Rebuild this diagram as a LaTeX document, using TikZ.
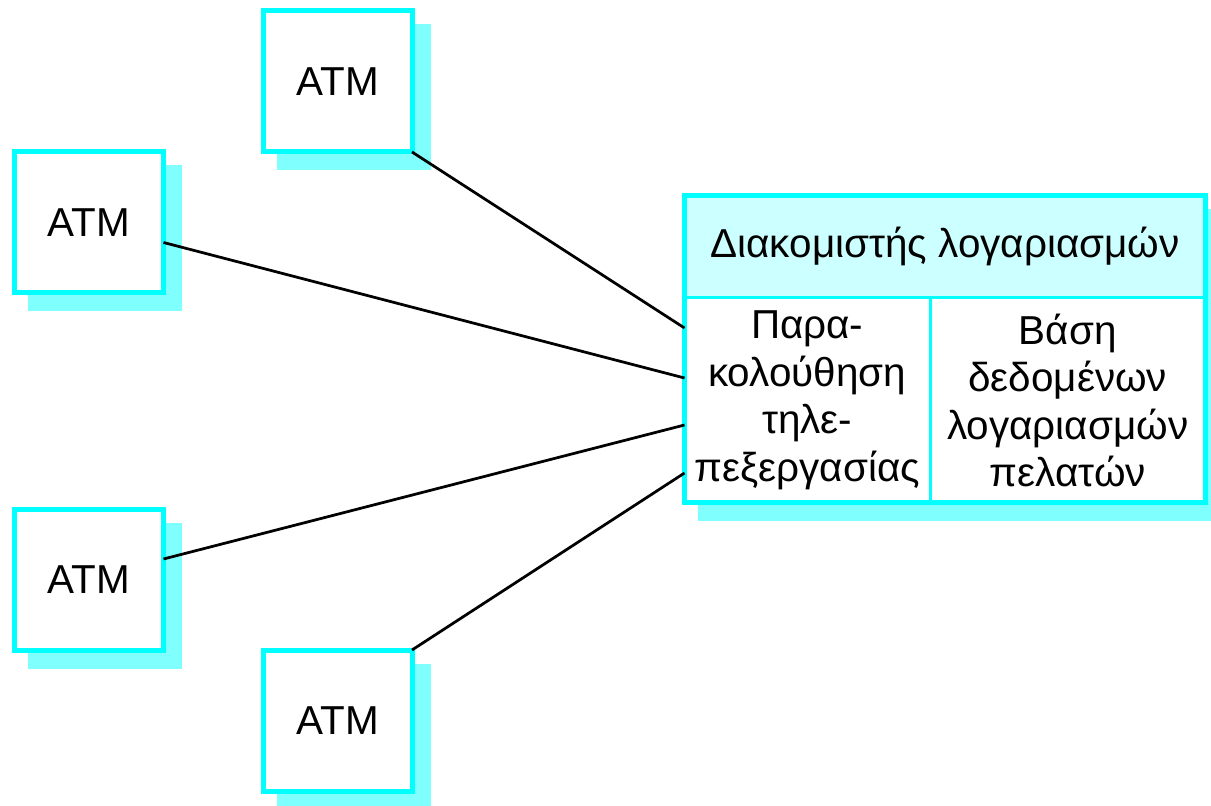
\documentclass[tikz,border=0pt]{standalone}
\usepackage{fontspec}
\setmainfont{Liberation Sans}
\usepackage{xcolor}
\usepackage{tikz}
\usetikzlibrary{positioning, shadows, calc}

\definecolor{aqua}{RGB}{0,255,255}
\definecolor{aquashade}{RGB}{128,255,255}
\definecolor{aqualight}{RGB}{204,255,255}

\begin{document}
\begin{tikzpicture}[
				% Defining node styles
				atm/.style={rectangle, draw=aqua, line width=0.1cm, fill=white, outer sep=0pt, minimum width=2.98cm, minimum height=2.82cm, drop shadow={shadow xshift=0.32cm, shadow yshift=-0.32cm, fill=aquashade, draw=aquashade, opacity=1}},
				server/.style={rectangle, draw=aqua, line width=0.1cm, fill=white, outer sep=0pt, drop shadow={shadow xshift=0.32cm, shadow yshift=-0.32cm, fill=aquashade, draw=aquashade, opacity=1}},
				header/.style={rectangle, draw=aqua, line width=0.06cm, fill=aqualight, outer sep=0pt, text centered},
				cell/.style={rectangle, draw=aqua, line width=0.06cm, fill=white, outer sep=0pt, align=center},
				link/.style={line width=0.055cm, draw=black},
				every node/.style={font=\fontsize{23}{27}\selectfont}
			]
			\useasboundingbox (0,0) rectangle (24.22,16.1);

			% Placing the ATM nodes
			\node[atm] (atmA) at (6.75,14.47) {ATM};
			\node[atm] (atmB) at (1.78,11.65) {ATM};
			\node[atm] (atmC) at (1.78,4.5) {ATM};
			\node[atm] (atmD) at (6.75,1.69) {ATM};

			% Server box with its parts
			\node[server, minimum width=10.42cm, minimum height=6.14cm] (srv) at (18.9,9.12) {};
			\node[header, minimum width=10.42cm, minimum height=2.05cm, anchor=north] (hdr) at (srv.north) {Διακομιστής λογαριασμών};
			\node[cell, minimum width=4.91cm, minimum height=4.09cm, anchor=north west] (mon) at (hdr.south west) {Παρα-\\κολούθηση\\τηλε-\\πεξεργασίας};
			\node[cell, minimum width=5.51cm, minimum height=4.09cm, anchor=north west] (db) at (mon.north east) {Βάση\\δεδομένων\\λογαριασμών\\πελατών};
			\draw[aqua, line width=0.1cm] (srv.north west) rectangle (srv.south east);

			% Connection points on the server
			\coordinate (pA) at ([yshift=0.42cm]srv.west);
			\coordinate (pB) at ([yshift=-0.58cm]srv.west);
			\coordinate (pC) at ([yshift=-1.52cm]srv.west);
			\coordinate (pD) at ([yshift=-2.48cm]srv.west);

			% Drawing connections
			\draw[link] (atmA.south east) -- (pA);
			\draw[link] ([yshift=-0.4cm]atmB.east) -- (pB);
			\draw[link] ([yshift=0.42cm]atmC.east) -- (pC);
			\draw[link] (atmD.north east) -- (pD);

		\end{tikzpicture}
\end{document}
